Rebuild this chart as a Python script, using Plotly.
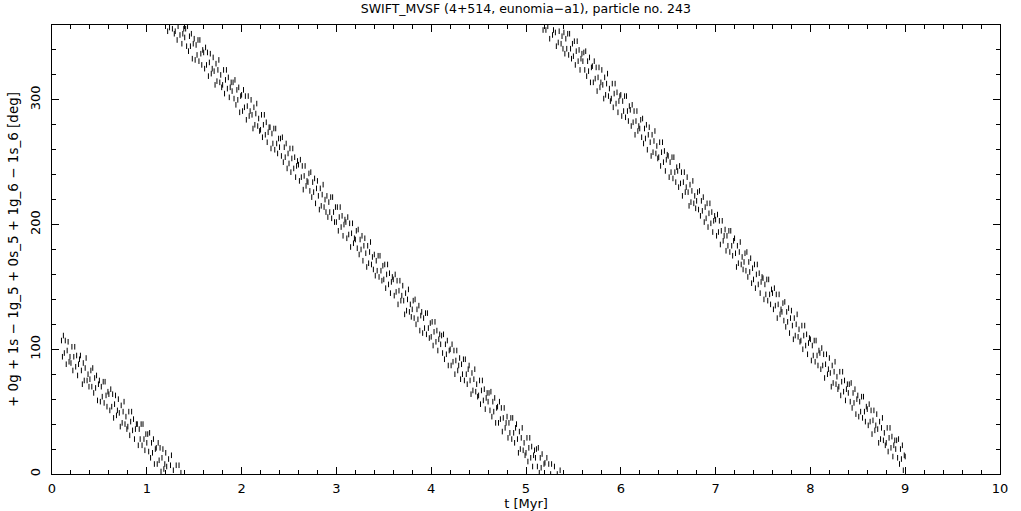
import numpy as np
import plotly.graph_objects as go

# sample times [Myr]
t_start, t_step, n_samples = 0.10, 0.01, 891
t_myr = np.round(t_start + t_step * np.arange(n_samples), 2)

# resonant angle [deg] (one value per sample, 0.1 Myr per row)
angle_deg = [
    107, 94, 111, 97, 107, 88, 99, 106, 90, 94,
    89, 102, 83, 94, 102, 86, 95, 79, 88, 92,
    95, 83, 72, 89, 75, 85, 93, 75, 80, 70,
    76, 83, 70, 85, 65, 77, 69, 79, 59, 72,
    75, 58, 70, 62, 74, 57, 74, 63, 54, 66,
    64, 51, 68, 54, 64, 45, 56, 63, 47, 51,
    60, 49, 38, 55, 41, 50, 58, 40, 46, 36,
    38, 50, 31, 42, 50, 35, 44, 28, 36, 40,
    40, 23, 36, 28, 40, 23, 40, 28, 19, 32,
    25, 32, 18, 33, 13, 25, 17, 28, 8, 20,
    21, 8, 25, 11, 21, 2, 13, 20, 4, 8,
    17, 6, 355, 12, 358, 7, 15, 357, 3, 353,
    355, 7, 348, 359, 7, 352, 1, 345, 353, 357,
    350, 357, 343, 359, 339, 351, 343, 353, 333, 345,
    349, 332, 344, 336, 348, 331, 348, 337, 328, 340,
    338, 325, 342, 328, 338, 319, 330, 337, 321, 325,
    334, 323, 312, 329, 315, 324, 332, 314, 320, 310,
    312, 324, 305, 316, 324, 309, 318, 302, 310, 314,
    307, 314, 301, 316, 296, 308, 300, 310, 290, 303,
    304, 291, 308, 294, 303, 284, 295, 303, 287, 291,
    300, 288, 277, 294, 280, 289, 297, 279, 285, 275,
    276, 288, 270, 280, 288, 272, 282, 266, 274, 278,
    278, 261, 273, 265, 277, 260, 277, 265, 257, 269,
    262, 269, 255, 270, 250, 262, 254, 265, 245, 257,
    249, 261, 242, 253, 261, 245, 254, 238, 247, 251,
    248, 235, 252, 238, 247, 228, 239, 247, 231, 235,
    234, 241, 227, 242, 222, 234, 226, 237, 217, 229,
    235, 223, 212, 229, 215, 224, 232, 214, 220, 210,
    223, 206, 218, 210, 222, 205, 222, 210, 202, 214,
    202, 214, 195, 206, 214, 198, 207, 191, 200, 204,
    202, 189, 206, 192, 201, 182, 193, 201, 185, 189,
    188, 195, 181, 196, 176, 188, 180, 191, 171, 183,
    189, 177, 166, 183, 169, 178, 186, 168, 174, 164,
    176, 159, 171, 163, 175, 158, 175, 163, 155, 167,
    156, 168, 149, 160, 168, 152, 161, 145, 154, 158,
    156, 143, 160, 146, 155, 136, 147, 155, 139, 143,
    151, 139, 128, 145, 131, 140, 148, 130, 136, 126,
    132, 139, 125, 140, 120, 132, 124, 135, 115, 127,
    130, 113, 125, 117, 129, 112, 129, 117, 109, 121,
    110, 122, 103, 114, 122, 106, 115, 99, 108, 112,
    104, 111, 97, 112, 92, 104, 96, 107, 87, 99,
    100, 87, 104, 90, 99, 80, 91, 99, 83, 87,
    93, 76, 88, 80, 92, 75, 92, 80, 72, 84,
    87, 75, 64, 81, 67, 76, 84, 66, 72, 62,
    63, 75, 56, 67, 75, 59, 68, 52, 61, 65,
    58, 65, 51, 66, 46, 58, 50, 61, 41, 53,
    54, 41, 58, 44, 53, 34, 45, 53, 37, 41,
    46, 29, 41, 33, 45, 28, 45, 33, 25, 37,
    40, 28, 17, 34, 20, 29, 37, 19, 25, 15,
    17, 29, 10, 21, 29, 13, 22, 6, 15, 19,
    13, 20, 6, 21, 1, 13, 5, 16, 356, 8,
    9, 356, 13, 359, 8, 349, 0, 8, 352, 356,
    6, 354, 343, 0, 346, 355, 3, 345, 351, 341,
    354, 337, 349, 341, 353, 336, 353, 341, 333, 345,
    335, 347, 328, 339, 347, 331, 340, 324, 333, 337,
    331, 338, 324, 339, 319, 331, 323, 334, 314, 326,
    327, 314, 331, 317, 326, 307, 318, 326, 310, 314,
    324, 312, 301, 318, 304, 313, 321, 303, 309, 299,
    301, 313, 294, 305, 313, 297, 306, 290, 299, 303,
    304, 287, 299, 291, 303, 286, 303, 291, 283, 295,
    292, 279, 296, 282, 291, 272, 283, 291, 275, 279,
    277, 284, 270, 285, 265, 277, 269, 280, 260, 272,
    278, 266, 255, 272, 258, 267, 275, 257, 263, 253,
    254, 266, 247, 258, 266, 250, 259, 243, 252, 256,
    255, 238, 250, 242, 254, 237, 254, 242, 234, 246,
    243, 230, 247, 233, 242, 223, 234, 242, 226, 230,
    238, 226, 215, 232, 218, 227, 235, 217, 223, 213,
    219, 226, 212, 227, 207, 219, 211, 222, 202, 214,
    205, 217, 198, 209, 217, 201, 210, 194, 203, 207,
    204, 191, 208, 194, 203, 184, 195, 203, 187, 191,
    196, 179, 191, 183, 195, 178, 195, 183, 175, 187,
    189, 177, 166, 183, 169, 178, 186, 168, 174, 164,
    170, 177, 163, 178, 158, 170, 162, 173, 153, 165,
    156, 168, 149, 160, 168, 152, 161, 145, 154, 158,
    157, 140, 152, 144, 156, 139, 156, 144, 136, 148,
    145, 132, 149, 135, 144, 125, 136, 144, 128, 132,
    130, 137, 123, 138, 118, 130, 122, 133, 113, 125,
    131, 119, 108, 125, 111, 120, 128, 110, 116, 106,
    107, 119, 100, 111, 119, 103, 112, 96, 105, 109,
    108, 91, 103, 95, 107, 90, 107, 95, 87, 99,
    97, 84, 101, 87, 96, 77, 88, 96, 80, 84,
    93, 81, 70, 87, 73, 82, 90, 72, 78, 68,
    70, 82, 63, 74, 82, 66, 75, 59, 68, 72,
    65, 72, 58, 73, 53, 65, 57, 68, 48, 60,
    63, 46, 58, 50, 62, 45, 62, 50, 42, 54,
    52, 39, 56, 42, 51, 32, 43, 51, 35, 39,
    48, 36, 25, 42, 28, 37, 45, 27, 33, 23,
    25, 37, 18, 29, 37, 21, 30, 14, 23, 27,
    20, 27, 13, 28, 8, 20, 12, 23, 3, 15,
    14,
]

x_ticks = [0, 1, 2, 3, 4, 5, 6, 7, 8, 9, 10]
y_ticks = [0, 100, 200, 300]

title_text = "SWIFT_MVSF (4+514, eunomia\u2212a1), particle no. 243"
x_title = "t [Myr]"
y_title = "+ 0g + 1s \u2212 1g_5 + 0s_5 + 1g_6 \u2212 1s_6 [deg]"

FONT = "DejaVu Sans"

fig = go.Figure()
fig.add_trace(go.Scatter(
    x=t_myr, y=angle_deg, mode="markers",
    marker=dict(symbol="line-ns", size=4, color="black",
                line=dict(width=1, color="black")),
    hoverinfo="skip", showlegend=False, cliponaxis=True,
))

axis_common = dict(
    showgrid=False, zeroline=False, showline=True, linecolor="black",
    linewidth=1, mirror="allticks", ticks="inside", ticklen=7,
    tickcolor="black", tickwidth=1, automargin=False,
    tickfont=dict(family=FONT, size=13, color="black"),
)

fig.update_layout(
    width=1021, height=511,
    margin=dict(l=52, r=21, t=25, b=37),
    paper_bgcolor="white", plot_bgcolor="white",
    font=dict(family=FONT, color="black"),
    title=dict(text=title_text, x=0.515, xanchor="center",
               y=1 - 9 / 511, yanchor="middle", yref="container",
               automargin=False,
               font=dict(family=FONT, size=12.5, color="black")),
    xaxis=dict(range=[0, 10], tickvals=x_ticks, ticktext=[str(v) for v in x_ticks],
               ticklabelstandoff=2,
               minor=dict(dtick=0.2, ticks="inside", ticklen=4, tickcolor="black", showgrid=False),
               title=dict(text=x_title, standoff=2,
                          font=dict(family=FONT, size=13, color="black")),
               **axis_common),
    yaxis=dict(range=[0, 360], tickvals=y_ticks, ticktext=[str(v) for v in y_ticks],
               tickangle=-90, ticklabelstandoff=6,
               minor=dict(dtick=20, ticks="inside", ticklen=4, tickcolor="black", showgrid=False),
               title=dict(text=y_title, standoff=6,
                          font=dict(family=FONT, size=13.5, color="black")),
               **axis_common),
)

fig.write_html(
    "out.html",
    config={"displayModeBar": False},
    post_script="document.body.style.margin='0';document.body.style.overflow='hidden';",
)
